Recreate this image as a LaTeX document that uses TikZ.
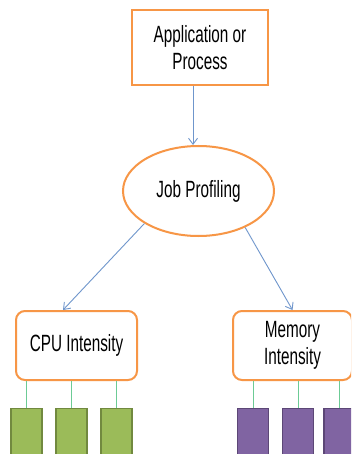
\documentclass[tikz,border=0pt]{standalone}
\usepackage{fontspec}
\setmainfont[FakeStretch=0.65]{Liberation Sans}
\usetikzlibrary{arrows.meta,shapes.geometric}
\definecolor{boxorange}{HTML}{F79646}
\definecolor{arrowblue}{HTML}{6F96CC}
\definecolor{linkgreen}{HTML}{6CCB95}
\definecolor{cpufill}{HTML}{9BBB59}
\definecolor{cpuedge}{HTML}{71893F}
\definecolor{memfill}{HTML}{8064A2}
\definecolor{memedge}{HTML}{5C4776}
\tikzset{
  stage/.style={draw=boxorange, line width=2pt, fill=white, align=center,
    font=\fontsize{23.5}{27}\selectfont, inner sep=0pt},
  flow/.style={draw=arrowblue, line width=0.9pt, -{Straight Barb[length=6pt,width=9pt]}},
  link/.style={draw=linkgreen, line width=1pt},
  cpuunit/.style={draw=cpuedge, fill=cpufill, line width=1.3pt, minimum width=31pt, minimum height=60pt, anchor=north, inner sep=0pt},
  memunit/.style={draw=memedge, fill=memfill, line width=1.3pt, minimum width=31pt, minimum height=60pt, anchor=north, inner sep=0pt}
}
\begin{document}
\begin{tikzpicture}[x=1pt,y=-1pt]
\useasboundingbox (0,0) rectangle (351,454);
\clip (0,0) rectangle (351,454);
\fill[white] (0,0) rectangle (351,454);

% main stages
\node[stage, minimum width=136pt, minimum height=75pt] (app) at (200,47.5) {Application or\\Process};
\node[stage, ellipse, minimum width=151pt, minimum height=90pt] (prof) at (198.5,191) {Job Profiling};
\node[stage, rounded corners=9pt, minimum width=121pt, minimum height=69pt] (cpu) at (76.5,345.5) {CPU Intensity};
\node[stage, rounded corners=9pt, minimum width=119pt, minimum height=69pt] (mem) at (292.5,345.5) {Memory\\Intensity};

% processing units
\node[cpuunit] (c1) at (26.5,408) {};
\node[cpuunit] (c2) at (71.5,408) {};
\node[cpuunit] (c3) at (116.5,408) {};
\node[memunit] (m1) at (253,408) {};
\node[memunit] (m2) at (298,408) {};
\node[memunit] (m3) at (339.5,408) {};

% links from the intensity classes to their units
\draw[link] (cpu.south -| c1.north) -- (c1.north);
\draw[link] (cpu.south -| c2.north) -- (c2.north);
\draw[link] (cpu.south -| c3.north) -- (c3.north);
\draw[link] (mem.south -| m1.north) -- (m1.north);
\draw[link] (mem.south -| m2.north) -- (m2.north);
\draw[link] (mem.south -| m3.north) -- (m3.north);

% profiling flow
\draw[flow] ([xshift=-7pt]app.south) -- ([xshift=-7pt]app.south |- prof.north);
\draw[flow] (prof.211) -- ([xshift=-13.5pt]cpu.north);
\draw[flow] (prof.322) -- (mem.north);
\end{tikzpicture}
\end{document}
